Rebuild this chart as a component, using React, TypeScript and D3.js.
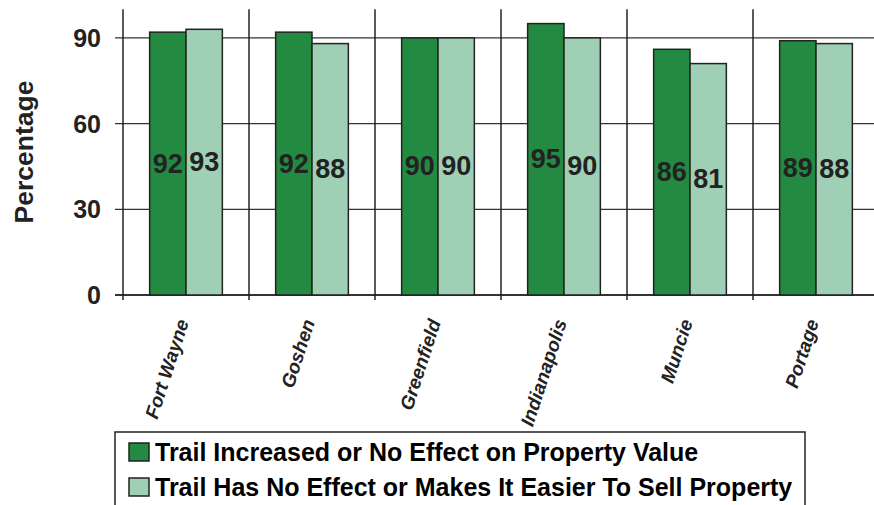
import React from "react";
import * as d3 from "d3";

const categories = ["Fort Wayne", "Goshen", "Greenfield", "Indianapolis", "Muncie", "Portage"];
const seriesNames = [
  "Trail Increased or No Effect on Property Value",
  "Trail Has No Effect or Makes It Easier To Sell Property",
];
const increasedValues = [92, 92, 90, 95, 86, 89];
const easierValues = [93, 88, 90, 90, 81, 88];
const yTicks = [0, 30, 60, 90];
const colors = ["#238a42", "#9fd0b6"];

const W = 874;
const H = 505;
const FONT = "Arial, 'Liberation Sans', Helvetica, sans-serif";

export default function App() {
  const x0 = d3.scaleBand<string>().domain(categories).range([123, 123 + 126 * 6]).paddingInner(0).paddingOuter(0);
  const x1 = d3.scaleBand<string>().domain(["a", "b"]).range([0, x0.bandwidth()]).paddingInner(0).paddingOuter(0.733);
  const y = d3.scaleLinear().domain([0, 100]).range([295, 9.3]);
  const series = [increasedValues, easierValues];
  const keys = ["a", "b"];

  return (
    <svg width={W} height={H} style={{ position: "absolute", left: 0, top: 0, background: "#fff" }} fontFamily={FONT}>
      {yTicks.map((t) => (
        <line key={"h" + t} x1={115} x2={W} y1={y(t)} y2={y(t)} stroke="#333" strokeWidth={t === 0 ? 2 : 1.3} />
      ))}
      {categories.map((c) => (
        <line key={"v" + c} x1={x0(c)!} x2={x0(c)!} y1={y(100)} y2={300} stroke="#222" strokeWidth={1.5} />
      ))}
      {categories.map((c, i) =>
        series.map((vals, s) => (
          <rect
            key={c + s}
            x={x0(c)! + x1(keys[s])!}
            y={y(vals[i])}
            width={x1.bandwidth()}
            height={y(0) - y(vals[i])}
            fill={colors[s]}
            stroke="#222"
            strokeWidth={1.5}
          />
        ))
      )}
      {categories.map((c, i) =>
        series.map((vals, s) => (
          <text
            key={"l" + c + s}
            x={x0(c)! + x1(keys[s])! + x1.bandwidth() / 2}
            y={(y(vals[i]) + y(0)) / 2}
            textAnchor="middle"
            dominantBaseline="central"
            fontWeight="bold"
            fontSize={27}
            fill="#222"
          >
            {vals[i]}
          </text>
        ))
      )}
      {yTicks.map((t) => (
        <text key={"yt" + t} x={101} y={y(t)} textAnchor="end" dominantBaseline="central" fontWeight="bold" fontSize={25} fill="#222">
          {t}
        </text>
      ))}
      <text
        transform={`translate(33,152) rotate(-90)`}
        textAnchor="middle"
        fontWeight="bold"
        fontSize={26.5}
        fill="#222"
      >
        Percentage
      </text>
      {categories.map((c) => (
        <text
          key={"xl" + c}
          transform={`translate(${x0(c)! + x0.bandwidth() / 2 + 3},322) rotate(-72)`}
          textAnchor="end"
          fontWeight="bold"
          fontStyle="italic"
          fontSize={19}
          fill="#222"
        >
          {c}
        </text>
      ))}
      <rect x={115} y={432} width={690} height={90} fill="#fff" stroke="#222" strokeWidth={1.5} />
      {seriesNames.map((n, s) => (
        <g key={"lg" + s} transform={`translate(129,${452 + s * 35})`}>
          <rect x={0} y={-9} width={20} height={18} fill={colors[s]} stroke="#222" strokeWidth={1.5} />
          <text x={26} y={0} dominantBaseline="central" fontWeight="bold" fontSize={25} fill="#000">
            {n}
          </text>
        </g>
      ))}
    </svg>
  );
}
